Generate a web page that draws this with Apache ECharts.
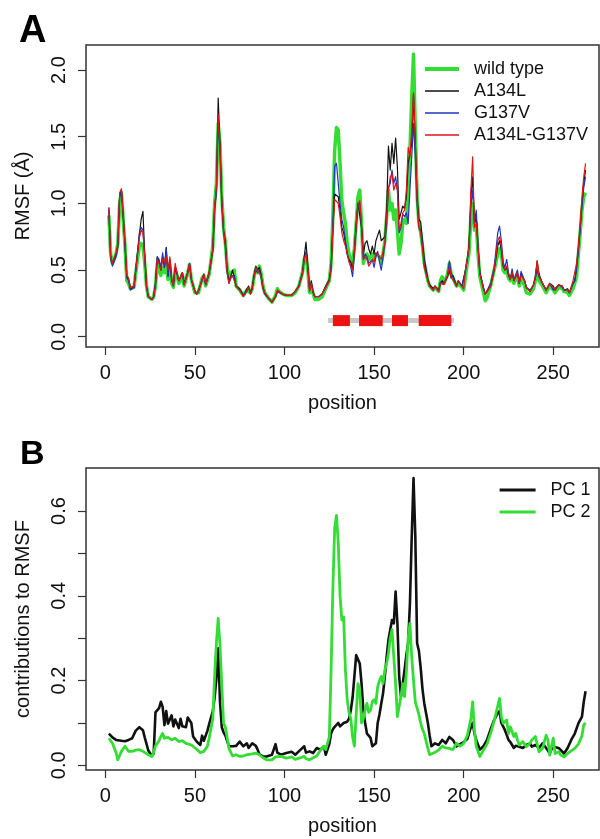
<!DOCTYPE html>
<html><head><meta charset="utf-8">
<script src="https://cdn.jsdelivr.net/npm/echarts@6/dist/echarts.min.js"></script>
<style>html,body{margin:0;padding:0;background:#fff}#c{width:600px;height:839px}</style>
</head><body><div id="c"></div>
<script>
// ---------- Panel A: RMSF per position ----------
const posA = [
  2,3,4,6,7,8,9,10,11,12,
  13,14,16,17,19,20,21,22,23,24,
  26,27,28,29,30,31,32,33,34,35,
  36,37,38,39,40,41,42,43,44,46,
  47,48,50,51,52,54,55,56,57,58,
  60,61,62,63,64,65,66,67,68,69,
  70,71,72,73,75,76,77,78,79,80,
  81,82,83,84,85,86,87,88,89,91,
  93,95,96,97,99,101,104,106,108,110,
  111,112,113,114,115,116,117,119,121,123,
  125,126,127,128,129,130,131,132,133,134,
  135,136,137,138,139,140,141,142,143,144,
  145,146,147,148,149,150,151,152,153,154,
  155,156,157,158,159,160,161,162,163,164,
  165,166,167,168,169,170,171,172,173,174,
  175,176,177,178,180,181,183,184,186,187,
  188,189,191,192,193,194,196,197,199,200,
  201,202,203,204,205,206,207,208,209,211,
  212,213,215,217,219,220,221,222,223,224,
  225,226,227,228,230,231,232,234,235,237,
  239,240,241,242,244,246,248,250,251,253,
  255,256,258,259,261,262,263,264,265,266,
  267,268
];
const wildType = [
  .91,.62,.55,.62,.70,1.00,1.08,.88,.68,.42,
  .40,.36,.37,.48,.68,.70,.68,.55,.38,.30,
  .28,.30,.38,.55,.50,.46,.52,.48,.55,.43,
  .54,.40,.37,.50,.46,.40,.42,.47,.38,.48,
  .54,.43,.33,.32,.33,.44,.46,.38,.37,.47,
  .68,1.00,1.15,1.60,1.45,1.05,.82,.70,.52,.45,
  .48,.47,.50,.38,.35,.35,.31,.32,.35,.36,
  .33,.36,.45,.51,.48,.53,.47,.38,.33,.29,
  .26,.31,.36,.34,.32,.31,.31,.33,.38,.48,
  .58,.62,.50,.33,.38,.32,.28,.28,.30,.36,
  .42,.55,.90,1.40,1.57,1.55,1.30,1.02,.93,.85,
  .70,.62,.58,.55,.66,.85,1.05,1.10,.85,.55,
  .60,.62,.58,.60,.62,.58,.62,.62,.60,.55,
  .62,.72,.90,1.10,.95,1.00,.88,.95,.80,.62,
  .70,.85,.88,.85,1.10,1.40,1.80,2.12,1.55,1.05,
  .85,.78,.68,.55,.42,.38,.35,.37,.34,.42,
  .45,.40,.47,.55,.47,.48,.38,.40,.37,.35,
  .45,.55,.63,.90,1.00,.80,.85,.62,.45,.33,
  .27,.29,.38,.50,.62,.66,.62,.50,.48,.50,
  .44,.42,.46,.40,.46,.38,.44,.38,.33,.32,
  .36,.42,.50,.42,.38,.33,.38,.35,.33,.37,
  .36,.34,.33,.31,.36,.36,.45,.62,.78,.95,
  1.05,1.08
];
const a134l = [
  .95,.60,.55,.62,.68,1.05,1.10,.90,.70,.45,
  .43,.36,.37,.50,.76,.88,.94,.62,.38,.30,
  .28,.30,.40,.60,.56,.50,.60,.52,.67,.46,
  .58,.43,.39,.52,.47,.42,.43,.48,.40,.48,
  .55,.43,.34,.32,.34,.43,.47,.39,.38,.48,
  .65,.97,1.10,1.79,1.45,1.02,.80,.72,.50,.42,
  .45,.50,.50,.38,.36,.35,.31,.33,.36,.38,
  .33,.37,.46,.53,.50,.52,.46,.37,.33,.29,
  .26,.30,.34,.35,.32,.31,.31,.34,.38,.48,
  .60,.71,.53,.35,.42,.33,.30,.30,.32,.38,
  .43,.52,.82,1.07,1.08,1.05,.95,.82,.78,.70,
  .62,.58,.56,.50,.65,.85,1.00,1.00,.82,.62,
  .70,.72,.66,.62,.68,.62,.72,.76,.80,.72,
  .72,.75,.95,1.43,1.25,1.45,1.30,1.49,1.27,.88,
  .87,.98,.96,1.05,1.30,1.30,1.45,1.82,1.45,1.05,
  .88,.86,.72,.58,.43,.39,.36,.38,.35,.40,
  .42,.40,.45,.50,.44,.46,.38,.42,.38,.37,
  .50,.58,.68,1.05,1.20,.85,.90,.68,.48,.37,
  .32,.33,.38,.50,.68,.72,.65,.53,.50,.52,
  .46,.43,.48,.42,.48,.40,.47,.42,.37,.34,
  .39,.45,.57,.47,.40,.35,.40,.38,.35,.39,
  .38,.35,.36,.33,.40,.42,.52,.66,.82,1.00,
  1.15,1.25
];
const g137v = [
  .97,.58,.53,.60,.68,1.05,1.10,.90,.69,.44,
  .42,.35,.37,.50,.78,.82,.80,.60,.37,.30,
  .28,.30,.40,.60,.58,.52,.63,.52,.66,.45,
  .58,.42,.38,.52,.48,.42,.42,.47,.39,.48,
  .55,.43,.34,.32,.33,.42,.46,.39,.38,.48,
  .65,.95,1.08,1.60,1.40,1.00,.78,.68,.48,.40,
  .44,.45,.46,.38,.35,.35,.31,.32,.34,.37,
  .32,.36,.45,.50,.48,.50,.44,.36,.32,.29,
  .26,.30,.34,.35,.32,.31,.31,.34,.38,.47,
  .58,.64,.52,.35,.40,.33,.30,.30,.32,.37,
  .42,.52,.85,1.28,1.30,1.15,1.00,.88,.82,.72,
  .62,.57,.52,.45,.62,.82,.98,1.00,.82,.58,
  .62,.60,.55,.56,.58,.52,.60,.64,.56,.50,
  .60,.70,.85,1.12,1.15,1.25,1.15,1.20,1.10,.78,
  .82,.92,.90,.93,.85,1.10,1.35,1.60,1.35,1.00,
  .82,.80,.68,.54,.42,.38,.35,.38,.34,.41,
  .42,.40,.46,.57,.48,.47,.38,.42,.38,.37,
  .50,.58,.68,.98,1.10,.85,.95,.68,.48,.37,
  .32,.33,.40,.52,.78,.83,.72,.56,.52,.58,
  .48,.43,.51,.43,.50,.40,.49,.42,.37,.35,
  .39,.44,.50,.45,.40,.35,.40,.35,.34,.39,
  .37,.35,.35,.33,.40,.42,.52,.64,.80,.98,
  1.12,1.20
];
const doubleMut = [
  .97,.60,.55,.63,.70,1.08,1.11,.92,.70,.46,
  .44,.37,.38,.50,.74,.80,.78,.60,.38,.30,
  .28,.30,.38,.58,.55,.50,.58,.56,.60,.50,
  .60,.44,.38,.55,.48,.42,.43,.48,.39,.48,
  .55,.43,.34,.32,.34,.43,.47,.39,.38,.49,
  .66,.98,1.12,1.67,1.42,1.02,.80,.68,.48,.40,
  .44,.46,.47,.38,.35,.35,.30,.32,.35,.37,
  .32,.36,.45,.52,.50,.51,.45,.36,.33,.29,
  .26,.30,.35,.35,.32,.31,.31,.34,.38,.47,
  .58,.62,.52,.34,.40,.33,.30,.30,.32,.37,
  .42,.50,.80,1.03,1.04,1.00,.90,.78,.72,.68,
  .62,.56,.53,.50,.64,.84,1.00,1.02,.84,.58,
  .60,.58,.53,.55,.58,.56,.63,.64,.60,.58,
  .64,.70,.90,1.10,1.20,1.22,1.10,1.15,1.10,.80,
  .85,.93,.95,1.10,1.42,1.35,1.55,1.83,1.45,1.02,
  .82,.78,.66,.52,.42,.38,.35,.38,.34,.40,
  .41,.39,.46,.52,.45,.46,.38,.42,.38,.36,
  .50,.58,.68,1.10,1.35,.82,.85,.66,.47,.36,
  .32,.33,.38,.50,.72,.75,.68,.54,.50,.53,
  .47,.43,.48,.42,.48,.40,.46,.42,.37,.34,
  .39,.45,.57,.46,.40,.35,.40,.37,.35,.39,
  .38,.35,.35,.33,.42,.43,.55,.68,.85,1.05,
  1.20,1.30
];
// secondary-structure style bar under panel A
const domainSpan = [124.3, 194.6];
const domainStart = [127.0, 141.6, 160.0, 174.9];
const domainEnd = [136.5, 154.8, 168.9, 193.1];
const domainY = 0.121;

// ---------- Panel B: PC contributions ----------
const posB = [
  2,4,5,6,7,9,11,13,15,17,
  19,21,22,24,26,27,28,30,31,32,
  33,34,35,37,38,39,41,42,43,45,
  46,48,49,51,53,54,55,57,58,60,
  61,62,63,64,65,66,67,69,71,73,
  75,77,79,80,82,84,85,86,88,90,
  93,95,96,98,101,104,106,109,111,112,
  114,116,118,120,122,123,124,125,126,127,
  128,129,130,131,132,133,134,135,136,137,
  138,139,140,141,142,143,144,145,146,147,
  148,149,150,151,152,153,154,155,156,157,
  158,159,160,161,162,163,164,165,166,167,
  168,169,170,171,172,173,174,175,176,177,
  178,180,181,182,184,186,188,190,192,194,
  196,198,200,202,204,205,206,207,209,211,
  213,215,217,219,220,221,222,223,224,225,
  226,227,228,229,230,231,233,235,237,238,
  240,242,243,244,246,247,248,249,250,251,
  253,254,256,258,260,262,264,266,267,268
];
const pc1 = [
  .075,.066,.062,.060,.058,.058,.057,.060,.064,.082,
  .090,.083,.066,.035,.022,.028,.125,.135,.150,.138,
  .095,.128,.098,.118,.092,.108,.088,.110,.092,.090,
  .113,.100,.068,.056,.048,.070,.058,.082,.098,.128,
  .160,.205,.276,.150,.090,.078,.070,.045,.045,.046,
  .056,.045,.052,.041,.052,.046,.037,.026,.021,.021,
  .025,.050,.030,.025,.029,.032,.025,.037,.045,.030,
  .033,.029,.041,.037,.045,.025,.021,.050,.075,.085,
  .091,.095,.100,.092,.095,.100,.100,.103,.110,.130,
  .160,.210,.260,.256,.240,.193,.130,.100,.075,.070,
  .065,.045,.048,.052,.100,.120,.146,.170,.210,.256,
  .296,.320,.343,.335,.410,.335,.210,.162,.193,.225,
  .260,.288,.383,.540,.678,.540,.288,.270,.230,.180,
  .146,.100,.070,.045,.052,.048,.060,.052,.067,.060,
  .045,.050,.055,.062,.090,.100,.075,.060,.037,.045,
  .060,.085,.107,.123,.128,.100,.092,.083,.072,.060,
  .055,.052,.041,.046,.048,.044,.041,.048,.052,.044,
  .048,.041,.045,.052,.041,.035,.028,.038,.044,.042,
  .041,.044,.028,.041,.060,.075,.099,.115,.150,.175
];
const pc2 = [
  .064,.052,.056,.030,.013,.033,.045,.033,.033,.036,
  .037,.033,.030,.025,.021,.030,.046,.058,.068,.075,
  .064,.067,.066,.060,.062,.064,.056,.060,.058,.052,
  .050,.048,.044,.038,.030,.032,.033,.045,.065,.110,
  .210,.290,.347,.285,.190,.100,.090,.040,.022,.025,
  .021,.022,.025,.021,.027,.029,.027,.025,.018,.013,
  .013,.020,.022,.021,.017,.020,.014,.018,.021,.016,
  .013,.018,.022,.035,.045,.037,.040,.067,.225,.420,
  .560,.590,.525,.400,.343,.350,.225,.155,.125,.110,
  .067,.045,.120,.193,.177,.100,.110,.130,.146,.125,
  .130,.150,.155,.146,.185,.200,.210,.193,.225,.240,
  .264,.300,.320,.256,.193,.115,.140,.162,.193,.162,
  .220,.300,.335,.256,.200,.150,.135,.120,.100,.085,
  .075,.040,.025,.027,.031,.036,.045,.041,.040,.037,
  .052,.045,.052,.070,.110,.150,.083,.045,.021,.036,
  .050,.075,.105,.140,.158,.115,.099,.103,.107,.075,
  .091,.080,.068,.075,.060,.048,.056,.044,.052,.060,
  .068,.032,.028,.040,.071,.060,.024,.045,.064,.028,
  .032,.025,.020,.028,.034,.040,.050,.070,.096,.100
];

// ---------- ticks ----------
const xTicks = [0, 50, 100, 150, 200, 250];
const yTicksA = [0, 0.5, 1.0, 1.5, 2.0];
const yTicksB = [0, 0.1, 0.2, 0.3, 0.4, 0.5, 0.6];
const yLabelsB = [0, 0.2, 0.4, 0.6];

const FONT = 'Liberation Sans, Arial, Helvetica, sans-serif';
const pairs = (xs, ys) => xs.map((x, i) => [x, ys[i]]);

function xAxisCfg(idx) {
  return {
    gridIndex: idx, type: 'value', min: -10.77, max: 275.5,
    axisLine: { show: false, onZero: false },
    splitLine: { show: false },
    axisTick: { show: true, length: 8, customValues: xTicks, lineStyle: { color: '#333', width: 1.2 } },
    axisLabel: { customValues: xTicks, fontSize: 20, color: '#111', margin: 16, fontFamily: FONT },
    name: 'position', nameLocation: 'middle', nameGap: 46,
    nameTextStyle: { fontSize: 20, color: '#111', fontFamily: FONT }
  };
}
function yAxisCfg(idx, min, max, ticks, labels, name, gap) {
  return {
    gridIndex: idx, type: 'value', min: min, max: max,
    axisLine: { show: false, onZero: false },
    splitLine: { show: false },
    axisTick: { show: true, length: 8, customValues: ticks, lineStyle: { color: '#333', width: 1.2 } },
    axisLabel: { customValues: labels, rotate: 90, fontSize: 20, color: '#111', margin: 17, fontFamily: FONT,
      formatter: v => Number(v).toFixed(1) },
    name: name, nameLocation: 'middle', nameGap: gap, nameRotate: 90,
    nameTextStyle: { fontSize: 20, color: '#111', fontFamily: FONT }
  };
}
function lineSeries(name, xi, data, color, width, z) {
  return {
    name: name, type: 'line', xAxisIndex: xi, yAxisIndex: xi, data: data,
    symbol: 'none', showSymbol: false, smooth: false, z: z,
    lineStyle: { color: color, width: width, join: 'round' },
    itemStyle: { color: color }, emphasis: { disabled: true }
  };
}

const GREEN = '#33dd33', BLACK = '#111111', BLUE = '#2233bb', RED = '#e01515';

const chart = echarts.init(document.getElementById('c'), null, { renderer: 'canvas' });
chart.setOption({
  animation: false,
  backgroundColor: '#fff',
  textStyle: { fontFamily: FONT },
  grid: [
    { left: 86, top: 45, width: 513, height: 302, show: true, borderColor: '#333', borderWidth: 1.5, containLabel: false },
    { left: 86, top: 468, width: 513, height: 302, show: true, borderColor: '#333', borderWidth: 1.5, containLabel: false }
  ],
  xAxis: [xAxisCfg(0), xAxisCfg(1)],
  yAxis: [
    yAxisCfg(0, -0.077, 2.188, yTicksA, yTicksA, 'RMSF (Å)', 53),
    yAxisCfg(1, -0.011, 0.7016, yTicksB, yLabelsB, 'contributions to RMSF', 53)
  ],
  legend: [
    { data: [
        { name: 'wild type', lineStyle: { width: 4 } },
        { name: 'A134L', lineStyle: { width: 1.3 } },
        { name: 'G137V', lineStyle: { width: 1.3 } },
        { name: 'A134L-G137V', lineStyle: { width: 1.3 } }
      ],
      orient: 'vertical', left: 418, top: 55,
      itemWidth: 34, itemHeight: 14, itemGap: 4, selectedMode: false,
      itemStyle: { opacity: 0 },
      textStyle: { fontSize: 18, color: '#111', fontFamily: FONT, padding: [0, 0, 0, 10] } },
    { data: [
        { name: 'PC 1', lineStyle: { width: 3 } },
        { name: 'PC 2', lineStyle: { width: 3.2 } }
      ],
      orient: 'vertical', left: 493, top: 476,
      itemWidth: 36, itemHeight: 14, itemGap: 4, selectedMode: false,
      itemStyle: { opacity: 0 },
      textStyle: { fontSize: 18, color: '#111', fontFamily: FONT, padding: [0, 0, 0, 10] } }
  ],
  graphic: [
    { type: 'text', x: 19, y: 32, style: { text: 'A', fontSize: 38, fontWeight: 'bold', fontFamily: FONT, fill: '#000', verticalAlign: 'middle' } },
    { type: 'text', x: 20, y: 455, style: { text: 'B', fontSize: 34, fontWeight: 'bold', fontFamily: FONT, fill: '#000', verticalAlign: 'middle' } }
  ],
  series: [
    lineSeries('wild type', 0, pairs(posA, wildType), GREEN, 3.5, 2),
    lineSeries('A134L', 0, pairs(posA, a134l), BLACK, 1.2, 3),
    lineSeries('G137V', 0, pairs(posA, g137v), BLUE, 1.2, 4),
    lineSeries('A134L-G137V', 0, pairs(posA, doubleMut), RED, 1.2, 5),
    {
      name: 'domain-span', type: 'line', xAxisIndex: 0, yAxisIndex: 0, symbol: 'none', z: 2,
      data: domainSpan.map(x => [x, domainY]),
      lineStyle: { color: '#c8c8c8', width: 5, cap: 'butt' }, emphasis: { disabled: true }
    },
    {
      name: 'domains', type: 'custom', xAxisIndex: 0, yAxisIndex: 0, z: 3,
      data: domainStart.map((s, i) => [s, domainEnd[i], domainY]),
      encode: { x: [0, 1], y: 2 },
      renderItem: (params, api) => {
        const a = api.coord([api.value(0), api.value(2)]);
        const b = api.coord([api.value(1), api.value(2)]);
        return { type: 'rect', shape: { x: a[0], y: a[1] - 5.5, width: b[0] - a[0], height: 11 }, style: { fill: '#ee1111' } };
      }
    },
    lineSeries('PC 1', 1, pairs(posB, pc1), BLACK, 2.6, 2),
    lineSeries('PC 2', 1, pairs(posB, pc2), GREEN, 2.8, 3)
  ]
});
</script>
</body></html>
